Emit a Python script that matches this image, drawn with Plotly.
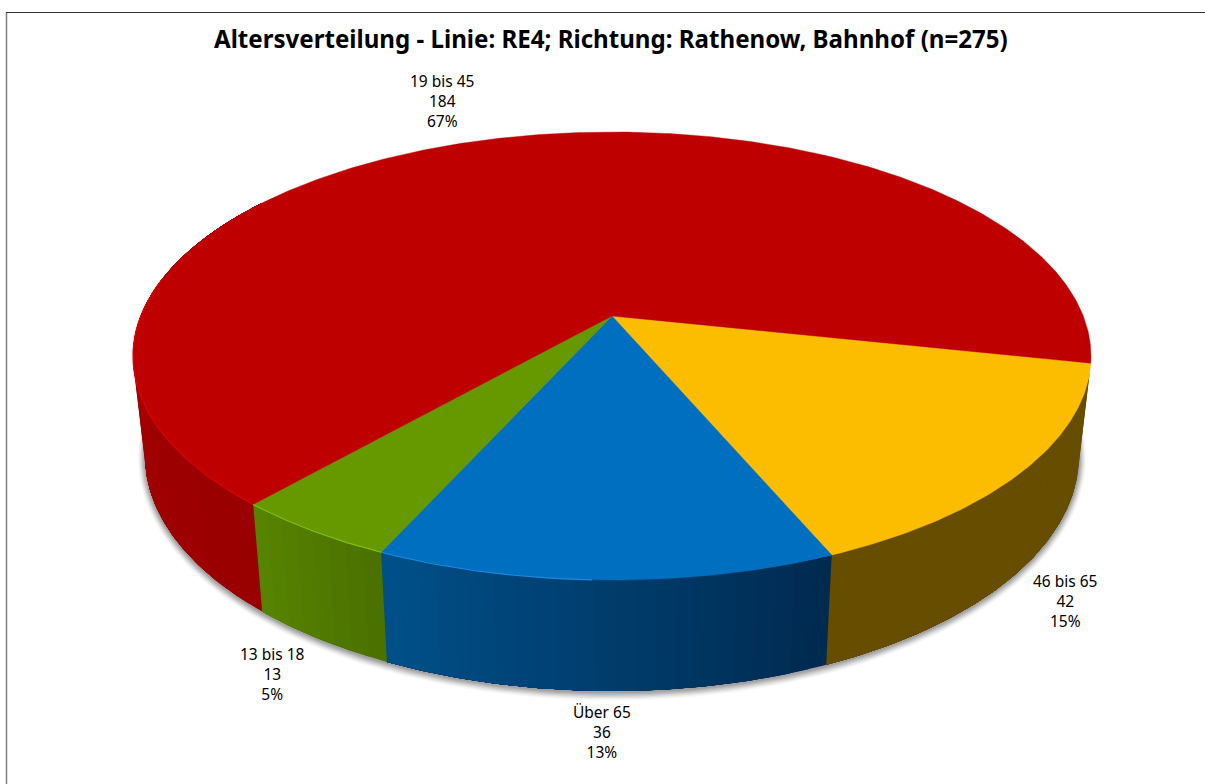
import numpy as np
import plotly.graph_objects as go

categories = ["46 bis 65", "Über 65", "13 bis 18", "19 bis 45"]
values = [42, 36, 13, 184]
percent_labels = ["15%", "13%", "5%", "67%"]
title_text = "Altersverteilung - Linie: RE4; Richtung: Rathenow, Bahnhof (n=275)"

top_colors = ["#FCBD00", "#006FC0", "#669900", "#BE0000"]
wall_left = ["#664D00", "#00508A", "#588500", "#AC0000"]
wall_right = ["#664D00", "#002A50", "#4A7000", "#990000"]
rim_colors = ["#FCBD00", "#1A8AE0", "#80C000", "#E00000"]
label_x = [1065, 602, 272, 442]
label_y = [601, 732, 674, 101]

W, H = 1205, 784
START = 12.1
CX = 612
Q = 0.1786
TOP = dict(a=471.3, b=216.9, y0=316)
BOT = dict(a=459.5, b=228.0, y0=413.5)


def rim(deg, a, b, y0):
    t = np.radians(deg)
    w = 1 - Q * np.sin(t)
    return CX + a * np.cos(t) / w, y0 + b * np.sin(t) / w


def blend(c1, c2, f):
    p = [int(c1[i:i + 2], 16) for i in (1, 3, 5)]
    r = [int(c2[i:i + 2], 16) for i in (1, 3, 5)]
    return "rgb(%d,%d,%d)" % tuple(round(u + (v - u) * f) for u, v in zip(p, r))


def poly(x, y, color, lw=0.0):
    return go.Scatter(x=list(x), y=list(y), mode="lines", fill="toself", fillcolor=color,
                      line=dict(color=color, width=lw), hoverinfo="skip", showlegend=False)


fig = go.Figure()
total = sum(values)
spans = [v / total * 360 for v in values]
starts = START + np.concatenate([[0], np.cumsum(spans)[:-1]])

# soft shadow under the base
circle = np.linspace(0, 360, 361)
for g, al in zip([7, 6, 5, 4, 3, 2, 1], [0.03, 0.05, 0.07, 0.09, 0.11, 0.12, 0.13]):
    sx, sy = rim(circle, BOT["a"] + g, BOT["b"] + g, BOT["y0"] + 1)
    fig.add_trace(poly(sx, sy, "rgba(60,60,60,%.2f)" % al))

# side walls: each band runs on to the end of the visible slice and the next one
# paints over it, so no seams appear between the bands
for s, span, cl, cr in zip(starts, spans, wall_left, wall_right):
    end = min(s + span, 215)
    n = max(int((end - s) / 2), 2)
    edges = np.linspace(s, end, n + 1)
    for i in range(n):
        dd = np.linspace(edges[i], end, max(int((end - edges[i]) * 2), 3))
        tx, ty = rim(dd, **TOP)
        bx, by = rim(dd[::-1], **BOT)
        fig.add_trace(poly(np.r_[tx, bx], np.r_[ty, by], blend(cr, cl, (i + 0.5) / n)))

# top face
for s, span, c in zip(starts, spans, top_colors):
    dd = np.linspace(s, s + span, max(int(span * 2), 2))
    x, y = rim(dd, **TOP)
    fig.add_trace(poly(np.r_[CX, x, CX], np.r_[TOP["y0"], y, TOP["y0"]], c, 0.4))

# bright rim on the left-facing part of the front edge
for s, span, c in zip(starts, spans, rim_colors):
    lo, hi = max(s, 92), min(s + span, 190)
    if hi <= lo:
        continue
    x, y = rim(np.linspace(lo, hi, 80), **TOP)
    fig.add_trace(go.Scatter(x=x, y=y, mode="lines", line=dict(color=c, width=1.1),
                             hoverinfo="skip", showlegend=False))

for cat, v, p, lx, ly in zip(categories, values, percent_labels, label_x, label_y):
    fig.add_annotation(x=lx, y=ly, xref="x", yref="y", text=f"{cat}<br>{v}<br>{p}",
                       showarrow=False, align="center",
                       font=dict(family="Noto Sans", size=15.5, color="#000000"))

fig.add_annotation(x=611, y=38.5, xref="x", yref="y", text=f"<b>{title_text}</b>", showarrow=False,
                   font=dict(family="Noto Sans", size=24.1, color="#000000"))

fig.add_shape(type="line", x0=6.5, x1=6.5, y0=12, y1=H, line=dict(color="#808080", width=1.5))
fig.add_shape(type="line", x0=6, x1=W, y0=12.5, y1=12.5, line=dict(color="#333333", width=1.2))

fig.update_layout(width=W, height=H, margin=dict(l=0, r=0, t=0, b=0),
                  paper_bgcolor="white", plot_bgcolor="white", showlegend=False,
                  xaxis=dict(range=[0, W], visible=False, fixedrange=True),
                  yaxis=dict(range=[H, 0], visible=False, fixedrange=True))
fig.write_html("out.html", config={"displayModeBar": False},
               post_script="document.body.style.margin='0';document.body.style.overflow='hidden';")
